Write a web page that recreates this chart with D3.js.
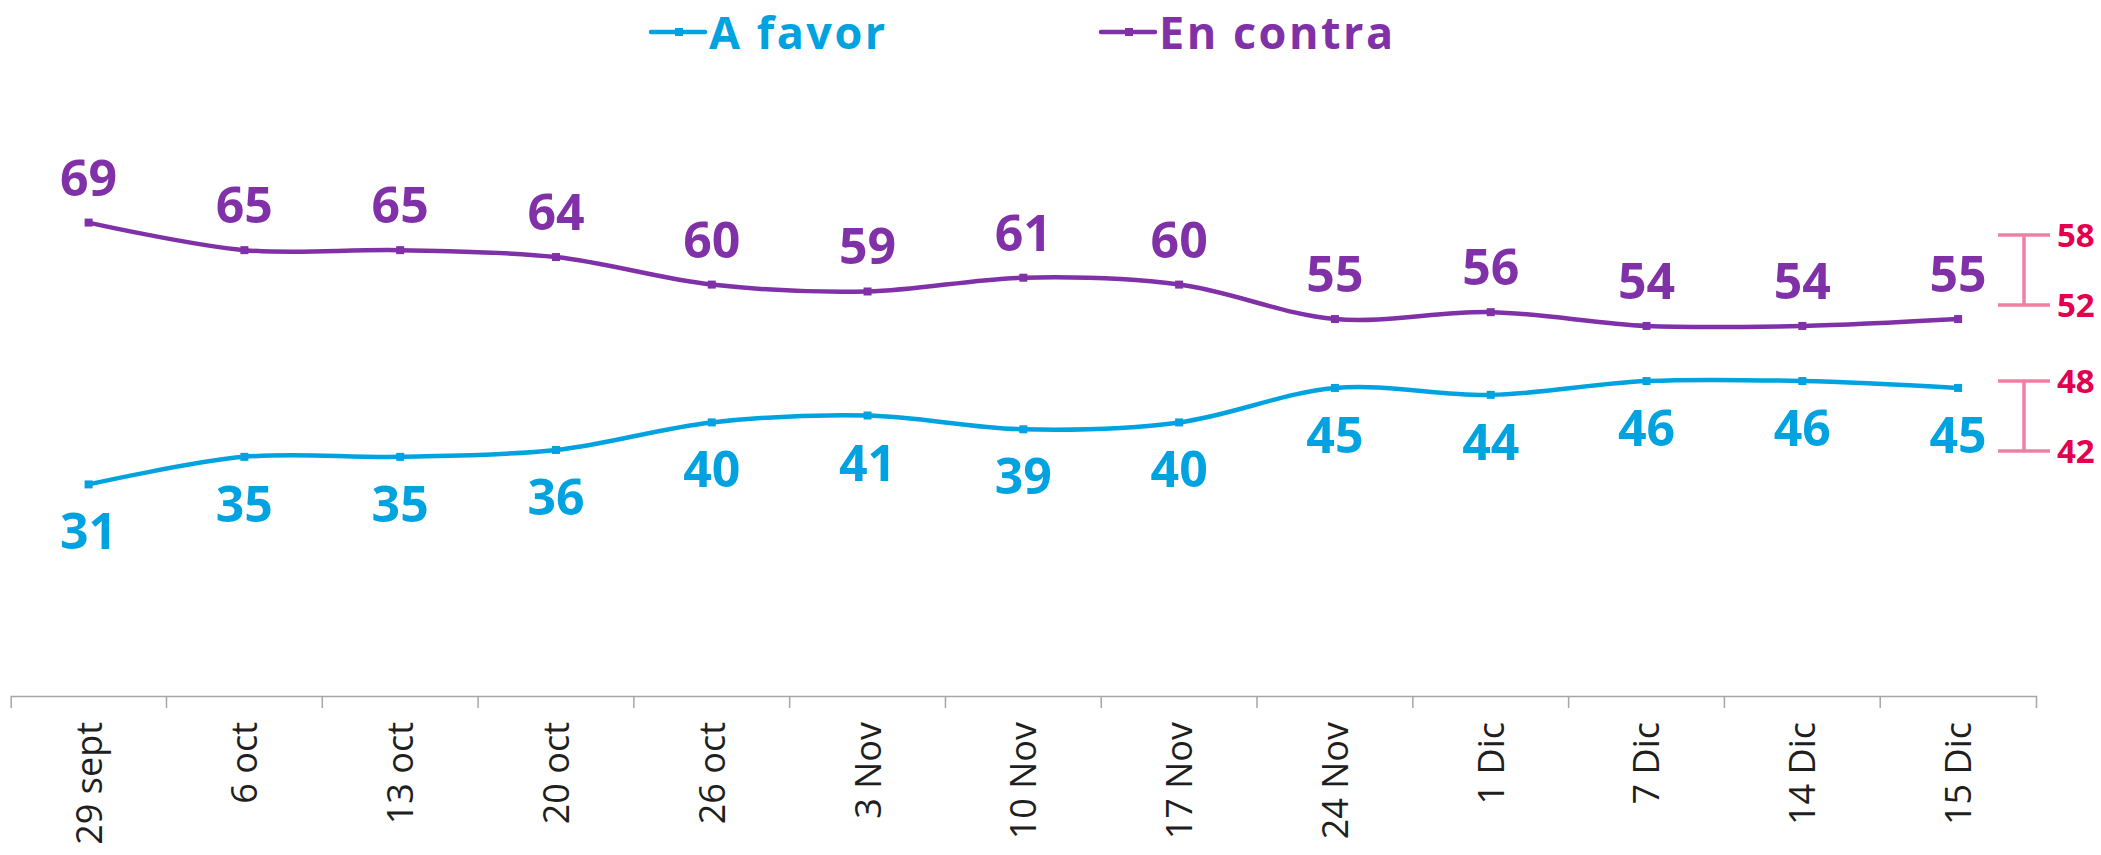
<!DOCTYPE html>
<html>
<head>
<meta charset="utf-8">
<script src="https://cdn.jsdelivr.net/npm/d3@7"></script>
<style>
  html, body { margin: 0; padding: 0; background: #ffffff; }
  svg { display: block; }
</style>
</head>
<body>
<script>
// ---- data ----
const categories = ["29 sept","6 oct","13 oct","20 oct","26 oct","3 Nov","10 Nov","17 Nov","24 Nov","1 Dic","7 Dic","14 Dic","15 Dic"];
const aFavor   = [31,35,35,36,40,41,39,40,45,44,46,46,45];
const enContra = [69,65,65,64,60,59,61,60,55,56,54,54,55];
const seriesNames = ["A favor","En contra"];
const rangeFavor  = [42,48];
const rangeContra = [52,58];

// ---- styling ----
const W = 2101, H = 855;
const colBlue = "#00A3E0", colPurple = "#8031A7", colRange = "#F07FA2", colRangeText = "#E2004F";

const svg = d3.select("body").append("svg").attr("width", W).attr("height", H);

const x = d3.scaleBand().domain(categories).range([10.7, 2036]).padding(0);
const y = d3.scaleLinear().domain([0, 100]).range([698, 9]);
const cx = c => x(c) + x.bandwidth() / 2;

const series = [
  {name: seriesNames[0], values: aFavor, color: colBlue, labelPos: "below", range: rangeFavor, rangeOffset: 28},
  {name: seriesNames[1], values: enContra, color: colPurple, labelPos: "above", range: rangeContra, rangeOffset: -49}
];

// ---- axis ----
const axisY = 696;
const axis = d3.axisBottom(x).tickSize(0).tickSizeOuter(12);
const gx = svg.append("g").attr("transform", `translate(0,${axisY})`).call(axis);
gx.select(".domain").attr("stroke", "#A6A6A6").attr("stroke-width", 1.5);
gx.selectAll(".tick text")
  .attr("transform", "rotate(-90)")
  .attr("x", -26).attr("y", 0).attr("dy", "0.36em")
  .attr("text-anchor", "end")
  .style("font-family", "'Open Sans', sans-serif")
  .style("font-size", "36px")
  .style("font-weight", 400)
  .attr("fill", "#1f1f1f");
// boundary ticks between categories
gx.selectAll(".bound").data(categories.slice(1)).enter().append("line")
  .attr("class", "bound")
  .attr("x1", d => x(d)).attr("x2", d => x(d))
  .attr("y1", 0).attr("y2", 12)
  .attr("stroke", "#A6A6A6").attr("stroke-width", 1.5);

// ---- lines ----
const line = d3.line()
  .x((d, i) => cx(categories[i]))
  .y(d => y(d))
  .curve(d3.curveCatmullRom.alpha(0.5));

series.forEach(s => {
  const g = svg.append("g");
  g.append("path").datum(s.values)
    .attr("d", line)
    .attr("fill", "none")
    .attr("stroke", s.color)
    .attr("stroke-width", 4.5);
  g.selectAll("rect").data(s.values).enter().append("rect")
    .attr("x", (d, i) => cx(categories[i]) - 4)
    .attr("y", d => y(d) - 4)
    .attr("width", 8).attr("height", 8)
    .attr("fill", s.color);
  g.selectAll("text").data(s.values).enter().append("text")
    .attr("x", (d, i) => cx(categories[i]))
    .attr("y", d => s.labelPos === "above" ? y(d) - 27 : y(d) + 65)
    .attr("text-anchor", "middle")
    .style("font-family", "'Open Sans', sans-serif")
    .style("font-size", "50px")
    .style("font-weight", 700)
    .attr("fill", s.color)
    .text(d => d);

  // range bracket next to last value
  const last = s.values[s.values.length - 1];
  const pxPerUnit = 70 / 6;
  const center = y(last) + s.rangeOffset;
  const half = (s.range[1] - s.range[0]) / 2 * pxPerUnit;
  const bx = 2024, capW = 26;
  const rg = svg.append("g");
  const ends = [{v: s.range[1], py: center - half}, {v: s.range[0], py: center + half}];
  rg.append("line").attr("x1", bx).attr("x2", bx).attr("y1", center - half).attr("y2", center + half)
    .attr("stroke", colRange).attr("stroke-width", 3.5);
  rg.selectAll(".cap").data(ends).enter().append("line")
    .attr("x1", bx - capW).attr("x2", bx + capW)
    .attr("y1", d => d.py).attr("y2", d => d.py)
    .attr("stroke", colRange).attr("stroke-width", 3.5);
  rg.selectAll("text").data(ends).enter().append("text")
    .attr("x", 2057).attr("y", d => d.py).attr("dy", "0.36em")
    .style("font-family", "'Open Sans', sans-serif")
    .style("font-size", "33px")
    .style("font-weight", 700)
    .attr("fill", colRangeText)
    .text(d => d.v);
});

// ---- legend ----
const legendX = [651, 1101];
series.forEach((s, i) => {
  const g = svg.append("g").attr("transform", `translate(${legendX[i]},32)`);
  g.append("line").attr("x1", 0).attr("x2", 54).attr("y1", 0).attr("y2", 0)
    .attr("stroke", s.color).attr("stroke-width", 4.5).attr("stroke-linecap", "round");
  g.append("rect").attr("x", 24).attr("y", -4).attr("width", 8).attr("height", 8).attr("fill", s.color);
  g.append("text").attr("x", 58).attr("y", 17)
    .style("font-family", "'Open Sans', sans-serif")
    .style("font-size", "45px")
    .style("font-weight", 700)
    .style("letter-spacing", "2.5px")
    .attr("fill", s.color)
    .text(s.name);
});
</script>
</body>
</html>
